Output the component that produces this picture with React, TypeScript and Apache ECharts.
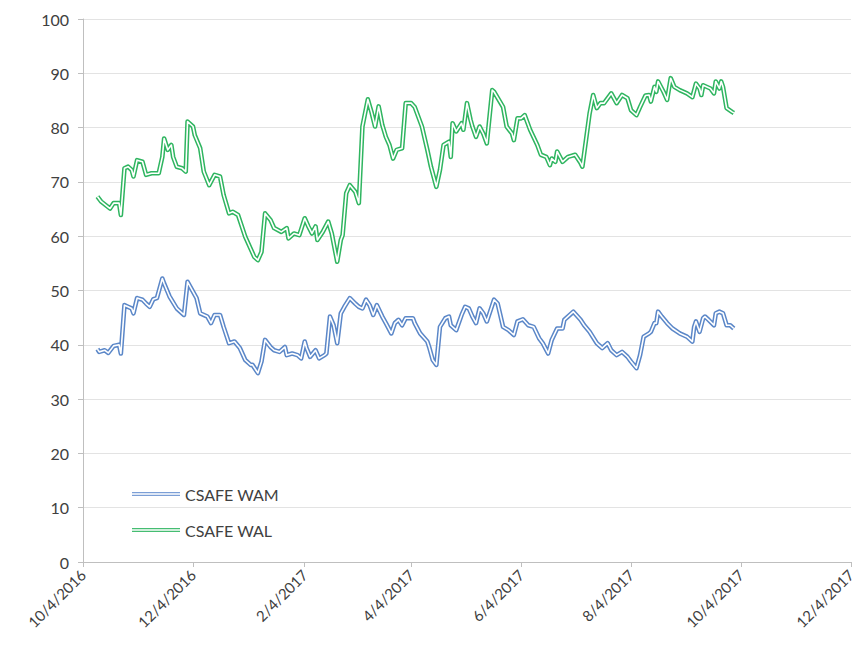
import React, { useEffect, useRef } from "react";
import * as echarts from "echarts";

// CSAFE WAL (green)
const walDates = [
  "2016-10-12","2016-10-14","2016-10-19","2016-10-21","2016-10-24","2016-10-25","2016-10-27","2016-10-29","2016-10-31",
  "2016-11-01","2016-11-03","2016-11-06","2016-11-08","2016-11-11","2016-11-15","2016-11-17","2016-11-18","2016-11-20",
  "2016-11-22","2016-11-23","2016-11-25","2016-11-28","2016-11-30","2016-12-01","2016-12-04","2016-12-05","2016-12-08",
  "2016-12-10","2016-12-13","2016-12-16","2016-12-19","2016-12-21","2016-12-24","2016-12-26","2016-12-29","2017-01-02",
  "2017-01-07","2017-01-09","2017-01-11","2017-01-13","2017-01-16","2017-01-18","2017-01-22","2017-01-25","2017-01-26",
  "2017-01-29","2017-02-01","2017-02-04","2017-02-06","2017-02-08","2017-02-10","2017-02-11","2017-02-14","2017-02-17",
  "2017-02-19","2017-02-22","2017-02-24","2017-02-25","2017-02-27","2017-03-01","2017-03-04","2017-03-06","2017-03-08",
  "2017-03-11","2017-03-13","2017-03-15","2017-03-17","2017-03-19","2017-03-21","2017-03-23","2017-03-25","2017-03-27",
  "2017-03-30","2017-04-01","2017-04-04","2017-04-06","2017-04-10","2017-04-13","2017-04-15","2017-04-18","2017-04-20",
  "2017-04-22","2017-04-25","2017-04-26","2017-04-27","2017-04-29","2017-05-02","2017-05-03","2017-05-05","2017-05-07",
  "2017-05-08","2017-05-10","2017-05-12","2017-05-14","2017-05-16","2017-05-19","2017-05-20","2017-05-25","2017-05-27",
  "2017-05-30","2017-05-31","2017-06-02","2017-06-04","2017-06-06","2017-06-09","2017-06-13","2017-06-15","2017-06-18",
  "2017-06-20","2017-06-21","2017-06-23","2017-06-24","2017-06-27","2017-06-30","2017-07-04","2017-07-07","2017-07-08",
  "2017-07-10","2017-07-12","2017-07-14","2017-07-16","2017-07-18","2017-07-20","2017-07-24","2017-07-27","2017-07-30",
  "2017-08-02","2017-08-04","2017-08-07","2017-08-09","2017-08-12","2017-08-14","2017-08-15","2017-08-17","2017-08-18",
  "2017-08-19","2017-08-22","2017-08-24","2017-08-26","2017-08-28","2017-08-31","2017-09-04","2017-09-07","2017-09-09",
  "2017-09-11","2017-09-12","2017-09-13","2017-09-17","2017-09-19","2017-09-20","2017-09-22","2017-09-23","2017-09-24",
  "2017-09-26","2017-09-29","2017-09-30"
];
const walValues = [
  67.3,66.4,65.1,66.1,66.1,63.9,72.5,72.8,72.2,
  71.0,74.0,73.7,71.3,71.6,71.6,74.6,78.0,75.9,
  76.8,74.6,72.8,72.5,71.9,81.1,80.2,78.6,76.2,
  71.9,69.4,71.3,71.0,67.6,64.2,64.5,63.9,59.9,
  56.2,55.6,57.1,64.2,63.0,61.5,60.8,61.5,59.6,
  60.5,60.2,63.3,61.8,60.5,61.8,59.3,60.8,62.7,
  60.5,55.3,59.3,60.2,67.9,69.4,68.2,66.1,80.2,
  85.2,82.9,80.2,83.9,80.5,78.3,76.8,74.3,75.9,
  76.2,84.5,84.5,83.8,80.2,75.9,72.8,69.1,72.2,
  76.8,77.4,74.6,80.8,79.3,80.8,79.6,84.5,81.4,
  80.2,78.3,80.2,78.9,77.1,86.9,86.6,83.8,80.2,
  78.9,77.7,81.7,81.7,82.3,79.6,76.8,75.0,74.6,
  73.1,74.3,73.7,75.6,73.7,74.6,75.0,73.5,72.8,
  77.7,82.6,86.0,83.6,84.5,84.5,86.3,84.5,86.0,
  85.4,83.2,82.3,83.8,85.9,86.0,84.8,87.5,86.6,
  88.5,86.6,85.1,89.1,87.5,86.9,86.3,85.6,88.1,
  87.2,86.0,87.8,87.2,86.3,88.5,87.2,88.5,87.5,
  83.6,82.9,82.7
];

// CSAFE WAM (blue)
const wamDates = [
  "2016-10-12","2016-10-13","2016-10-16","2016-10-18","2016-10-21","2016-10-24","2016-10-25","2016-10-27","2016-10-29",
  "2016-10-31","2016-11-01","2016-11-03","2016-11-06","2016-11-08","2016-11-10","2016-11-12","2016-11-14","2016-11-17",
  "2016-11-18","2016-11-21","2016-11-25","2016-11-29","2016-12-01","2016-12-03","2016-12-06","2016-12-08","2016-12-12",
  "2016-12-14","2016-12-16","2016-12-19","2016-12-21","2016-12-24","2016-12-27","2016-12-30","2017-01-02","2017-01-05",
  "2017-01-06","2017-01-09","2017-01-11","2017-01-13","2017-01-16","2017-01-18","2017-01-21","2017-01-24","2017-01-25",
  "2017-01-28","2017-01-31","2017-02-02","2017-02-04","2017-02-05","2017-02-07","2017-02-10","2017-02-12","2017-02-15",
  "2017-02-16","2017-02-18","2017-02-20","2017-02-22","2017-02-24","2017-02-26","2017-03-01","2017-03-04","2017-03-06",
  "2017-03-08","2017-03-10","2017-03-12","2017-03-14","2017-03-16","2017-03-19","2017-03-21","2017-03-24","2017-03-26",
  "2017-03-28","2017-03-30","2017-04-01","2017-04-05","2017-04-06","2017-04-09","2017-04-13","2017-04-14","2017-04-16",
  "2017-04-18","2017-04-20","2017-04-23","2017-04-25","2017-04-26","2017-04-29","2017-05-02","2017-05-04","2017-05-06",
  "2017-05-08","2017-05-10","2017-05-12","2017-05-14","2017-05-16","2017-05-20","2017-05-22","2017-05-25","2017-05-28",
  "2017-05-31","2017-06-02","2017-06-05","2017-06-08","2017-06-11","2017-06-14","2017-06-16","2017-06-19","2017-06-21",
  "2017-06-24","2017-06-27","2017-06-28","2017-07-01","2017-07-03","2017-07-07","2017-07-09","2017-07-12","2017-07-16",
  "2017-07-19","2017-07-22","2017-07-24","2017-07-27","2017-07-30","2017-08-02","2017-08-04","2017-08-07","2017-08-09",
  "2017-08-11","2017-08-14","2017-08-15","2017-08-17","2017-08-18","2017-08-19","2017-08-21","2017-08-24","2017-08-27",
  "2017-08-31","2017-09-04","2017-09-07","2017-09-08","2017-09-09","2017-09-11","2017-09-13","2017-09-14","2017-09-16",
  "2017-09-19","2017-09-20","2017-09-22","2017-09-24","2017-09-26","2017-09-28","2017-09-30"
];
const wamValues = [
  39.2,38.7,39.0,38.5,39.8,40.0,38.4,47.3,47.0,
  46.7,45.8,48.6,48.3,47.6,47.0,48.4,48.6,52.2,
  51.3,48.9,46.7,45.5,51.6,50.4,48.6,45.8,45.2,
  44.0,45.5,45.5,43.3,40.3,40.6,39.4,37.2,36.3,
  36.3,34.8,36.9,40.9,39.6,39.0,38.7,39.6,38.1,
  38.4,38.1,37.5,40.6,39.4,37.8,39.0,37.5,38.1,
  38.4,45.2,43.6,40.3,45.8,47.0,48.6,47.6,47.0,
  46.7,48.3,47.3,45.5,47.3,45.2,44.0,42.1,44.0,
  44.6,43.6,44.9,44.9,44.0,42.1,40.6,39.6,37.2,
  36.3,43.3,44.9,45.2,43.6,42.7,45.5,47.0,46.7,
  45.2,44.0,46.7,45.8,44.3,48.3,47.6,43.3,42.7,
  41.8,44.3,44.7,43.6,43.3,41.2,40.3,38.4,40.9,
  43.0,43.0,44.6,45.5,46.1,44.6,43.6,42.4,40.3,
  39.4,40.3,39.0,38.1,38.7,37.8,36.9,35.7,38.1,
  41.5,42.1,42.4,44.0,44.0,46.1,45.2,44.0,43.0,
  42.1,41.5,40.6,43.3,44.3,42.4,44.9,45.2,44.6,
  43.6,45.8,46.1,45.8,43.6,43.6,43.0
];

const xTickDates = [
  "2016-10-04","2016-12-04","2017-02-04","2017-04-04",
  "2017-06-04","2017-08-04","2017-10-04","2017-12-04"
];

const yTicks = [0, 10, 20, 30, 40, 50, 60, 70, 80, 90, 100];

const ts = (s: string) => {
  const [y, m, d] = s.split("-").map(Number);
  return new Date(y, m - 1, d).getTime();
};

const fmt = (v: number) => {
  const d = new Date(v);
  return `${d.getMonth() + 1}/${d.getDate()}/${d.getFullYear()}`;
};

const BLUE = "#5b87c8";
const GREEN = "#2fb560";
const FONT = "Lato, 'Open Sans', sans-serif";
const DOUBLE_LINE = "path://M0,0H48V1.4H0Z M0,2.8H48V4.2H0Z";

export default function App() {
  const ref = useRef<HTMLDivElement>(null);

  useEffect(() => {
    if (!ref.current) return;
    const chart = echarts.init(ref.current, undefined, { renderer: "svg" });
    const wamData = wamDates.map((d, i) => [ts(d), wamValues[i]]);
    const walData = walDates.map((d, i) => [ts(d), walValues[i]]);
    const tickVals = xTickDates.map(ts);

    const outer = (name: string, data: any[], color: string) => ({
      name,
      type: "line",
      data,
      symbol: "none",
      lineStyle: { color, width: 4.6, join: "round" },
      itemStyle: { color },
      z: 2,
    });
    const inner = (name: string, data: any[]) => ({
      name,
      type: "line",
      data,
      symbol: "none",
      lineStyle: { color: "#ffffff", width: 1.6, join: "round" },
      itemStyle: { color: "#ffffff" },
      silent: true,
      z: 3,
    });

    chart.setOption({
      animation: false,
      backgroundColor: "#ffffff",
      textStyle: { fontFamily: FONT },
      grid: { left: 83, right: 14, top: 19, bottom: 94, containLabel: false },
      legend: {
        orient: "vertical",
        left: 127,
        top: 481,
        itemGap: 20,
        itemWidth: 48,
        itemHeight: 14,
        textStyle: { fontSize: 16, color: "#404040", fontFamily: FONT },
        data: [
          { name: "CSAFE WAM", icon: DOUBLE_LINE, itemStyle: { color: "#7c9fd6" } },
          { name: "CSAFE WAL", icon: DOUBLE_LINE, itemStyle: { color: "#45bd72" } },
        ],
      },
      xAxis: {
        type: "value",
        min: tickVals[0],
        max: tickVals[tickVals.length - 1],
        axisLine: { show: true, onZero: false, lineStyle: { color: "#bfbfbf", width: 1 } },
        axisTick: {
          show: true,
          customValues: tickVals,
          length: 5,
          lineStyle: { color: "#bfbfbf" },
        },
        axisLabel: {
          customValues: tickVals,
          rotate: 45,
          formatter: (v: number) => fmt(v),
          fontSize: 15,
          color: "#404040",
          fontFamily: FONT,
          margin: 10,
        },
        splitLine: { show: false },
      },
      yAxis: {
        type: "value",
        min: yTicks[0],
        max: yTicks[yTicks.length - 1],
        interval: 10,
        axisLine: { show: true, lineStyle: { color: "#bfbfbf", width: 1 } },
        axisTick: { show: true, length: 5, lineStyle: { color: "#bfbfbf" } },
        axisLabel: { fontSize: 16, color: "#404040", fontFamily: FONT, margin: 14 },
        splitLine: { show: true, lineStyle: { color: "#e3e3e3", width: 1 } },
      },
      series: [
        outer("CSAFE WAM", wamData, BLUE),
        inner("WAM inner", wamData),
        outer("CSAFE WAL", walData, GREEN),
        inner("WAL inner", walData),
      ],
    });
    return () => chart.dispose();
  }, []);

  return (
    <div
      ref={ref}
      style={{ position: "fixed", left: 0, top: 0, width: 865, height: 656 }}
    />
  );
}
